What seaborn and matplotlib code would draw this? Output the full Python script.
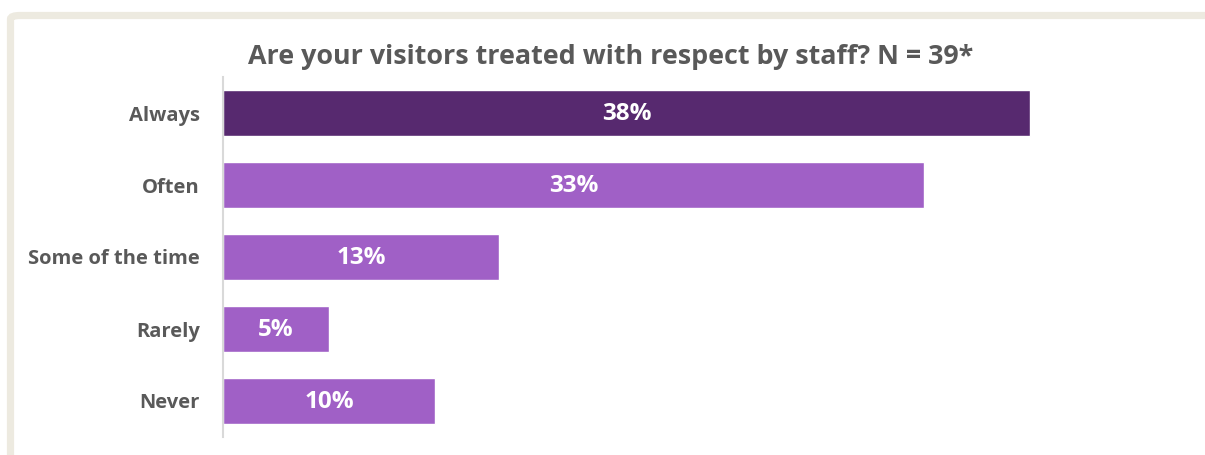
import matplotlib
matplotlib.use("Agg")
import matplotlib.pyplot as plt
from matplotlib.patches import FancyBboxPatch
import seaborn as sns
import pandas as pd

# Survey responses
categories = ["Always", "Often", "Some of the time", "Rarely", "Never"]
percentages = [38, 33, 13, 5, 10]
value_labels = ["38%", "33%", "13%", "5%", "10%"]
title_text = "Are your visitors treated with respect by staff? N = 39*"

DARK_PURPLE = "#57296F"
LIGHT_PURPLE = "#A060C6"
TEXT_GRAY = "#595959"

sns.set_theme(style="white")
plt.rcParams["font.family"] = ["Open Sans", "DejaVu Sans"]

W, H = 1205, 455
fig = plt.figure(figsize=(W / 100, H / 100), dpi=100)
fig.patch.set_facecolor("white")

# Beige rounded frame around the chart area
frame = FancyBboxPatch((10.5 / W, 1 - 470 / H), 1220 / W, 454.5 / H,
                       boxstyle="round,pad=0,rounding_size=0.008",
                       transform=fig.transFigure, facecolor="none",
                       edgecolor="#EDEAE0", linewidth=5.2, clip_on=False)
fig.patches.append(frame)

ax = fig.add_axes([223 / W, 18 / H, 956 / W, 360 / H])

df = pd.DataFrame({"category": categories, "pct": percentages})
palette = {c: (DARK_PURPLE if i == 0 else LIGHT_PURPLE) for i, c in enumerate(categories)}
sns.barplot(data=df, y="category", x="pct", hue="category", palette=palette,
            order=categories, hue_order=categories, width=0.64, legend=False,
            saturation=1, ax=ax, orient="h")

for i, (v, lab) in enumerate(zip(percentages, value_labels)):
    ax.text(v / 2, i + 0.01, lab, ha="center", va="center", color="white",
            fontsize=17.5, fontweight="bold")

ax.set_xlim(0, 45)
ax.set_ylim(4.5, -0.5)
ax.set_xlabel("")
ax.set_ylabel("")
ax.set_xticks([])
for side in ["top", "right", "bottom"]:
    ax.spines[side].set_visible(False)
ax.spines["left"].set_color("#D9D9D9")
ax.spines["left"].set_linewidth(1.5)
ax.tick_params(axis="y", length=0, pad=16.5)
for t in ax.get_yticklabels():
    t.set_fontsize(14.5)
    t.set_fontweight("bold")
    t.set_color(TEXT_GRAY)

fig.text(611 / W, 1 - 57 / H, title_text, ha="center", va="center",
         fontsize=19.4, fontweight="bold", color=TEXT_GRAY)

fig.savefig("out.png", dpi=100, facecolor="white")
